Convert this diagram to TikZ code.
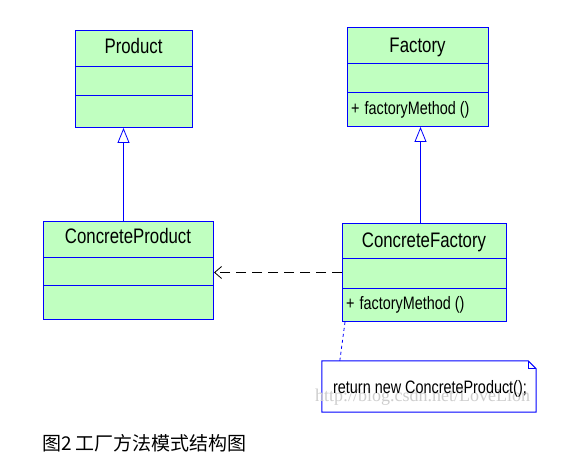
\documentclass[tikz,border=0pt]{standalone}
\usepackage{fontspec}
\setmainfont{Liberation Sans}
\newfontfamily\umlfont[FakeStretch=0.8]{Liberation Sans}
\newfontfamily\cjkfont{Noto Sans CJK SC}
\newfontfamily\wmfont{Liberation Serif}
\usetikzlibrary{arrows.meta}
\definecolor{umlgreen}{RGB}{192,255,192}
\definecolor{umlblue}{RGB}{0,0,255}
\definecolor{wmgray}{RGB}{205,205,205}
\tikzset{
 classbox/.style={draw=umlblue, fill=umlgreen, line width=1pt, inner sep=0pt, anchor=north west},
 divider/.style={draw=umlblue, line width=1pt},
 classname/.style={font=\umlfont\fontsize{21}{24}\selectfont, inner sep=0pt, anchor=base},
 methodtext/.style={font=\umlfont\fontsize{18}{21}\selectfont, inner sep=0pt, anchor=base west},
 inherit/.style={draw=umlblue, line width=0.8pt, -{Triangle[open, length=15pt, width=12pt]}},
 depend/.style={draw=black, line width=0.8pt, dash pattern=on 10pt off 6pt, -{Straight Barb[length=7pt, width=12pt]}},
 notelink/.style={draw=umlblue, line width=0.8pt, dash pattern=on 3pt off 3pt},
 noteshape/.style={draw=umlblue, line width=1pt, fill=white},
}
\begin{document}
\begin{tikzpicture}[x=1pt,y=-1pt]
\useasboundingbox[fill=white] (0,0) rectangle (566,462);
% Product
\node[classbox, minimum width=117pt, minimum height=97pt] (product) at (75,30) {};
\draw[divider] (75,67) -- (192,67);
\draw[divider] (75,96) -- (192,96);
\node[classname] (productname) at (133.5,54) {Product};
% Factory
\node[classbox, minimum width=141pt, minimum height=99pt] (factory) at (347,27) {};
\draw[divider] (347,64) -- (488,64);
\draw[divider] (347,93) -- (488,93);
\node[classname] (factoryname) at (417.5,53) {Factory};
\node[methodtext] (factorymethod) at (351,114.5) {+\hspace{5pt}factoryMethod ()};
% ConcreteProduct
\node[classbox, minimum width=170pt, minimum height=98pt] (cp) at (43,221) {};
\draw[divider] (43,258) -- (213,258);
\draw[divider] (43,286) -- (213,286);
\node[classname] (cpname) at (128,244) {ConcreteProduct};
% ConcreteFactory
\node[classbox, minimum width=164pt, minimum height=98pt] (cf) at (342,223) {};
\draw[divider] (342,259) -- (506,259);
\draw[divider] (342,289) -- (506,289);
\node[classname] (cfname) at (424,247.5) {ConcreteFactory};
\node[methodtext] (cfmethod) at (346,310) {+\hspace{5pt}factoryMethod ()};
% connectors
\draw[inherit] ([xshift=-5pt]cp.north) -- ([xshift=-10.5pt]product.south);
\draw[inherit] ([xshift=-4pt]cf.north) -- ([xshift=2.5pt]factory.south);
\draw[depend] (cf.west) -- (cf.west -| cp.east);
% note
\node[minimum width=214pt, minimum height=51pt, inner sep=0pt] (note) at (429,386.5) {};
\draw[noteshape] (note.north west) -- ([xshift=-8pt]note.north east) -- ([yshift=-8pt]note.north east) -- (note.south east) -- (note.south west) -- cycle;
\draw[umlblue, line width=0.8pt] ([xshift=-8pt]note.north east) -- ([xshift=-8pt,yshift=-8pt]note.north east) -- ([yshift=-8pt]note.north east);
\draw[notelink] ([xshift=3pt]cf.south west) -- ([xshift=18pt]note.north west);
\node[font=\wmfont\fontsize{18}{20}\selectfont, text=wmgray, inner sep=0pt, anchor=base west] (watermark) at (315,402) {http://blog.csdn.net/LoveLion};
\node[font=\umlfont\fontsize{18}{21}\selectfont, inner sep=0pt, anchor=base] (notetext) at (430,394) {return new ConcreteProduct();};
% caption
\node[font=\cjkfont\fontsize{19}{22}\selectfont, inner sep=0pt, anchor=base west] (caption) at (42,451) {图2 工厂方法模式结构图};
\end{tikzpicture}
\end{document}
